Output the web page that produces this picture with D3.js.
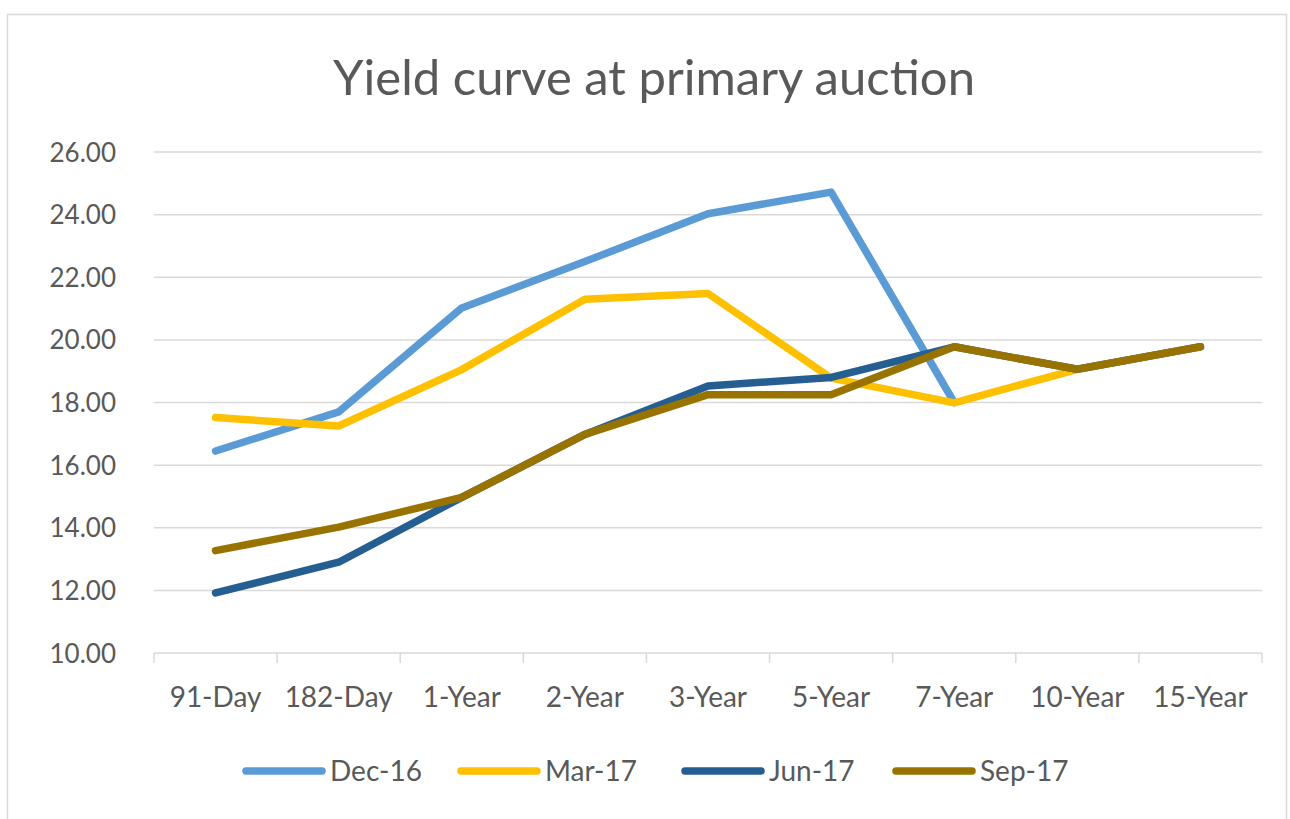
<!DOCTYPE html>
<html>
<head>
<meta charset="utf-8">
<script src="https://cdn.jsdelivr.net/npm/d3@7"></script>
<style>
  html, body { margin: 0; padding: 0; background: #fff; }
  svg { display: block; font-family: Lato, "Open Sans", sans-serif; }
</style>
</head>
<body>
<script>
// tenors on the x axis
const tenors = ["91-Day", "182-Day", "1-Year", "2-Year", "3-Year", "5-Year", "7-Year", "10-Year", "15-Year"];
const yTicks = [10, 12, 14, 16, 18, 20, 22, 24, 26];

// yields (null = no point)
const dec16 = [16.45, 17.70, 21.02, 22.50, 24.03, 24.72, 18.00, null, null];
const mar17 = [17.52, 17.25, 19.05, 21.30, 21.48, 18.78, 17.99, 19.06, null];
const jun17 = [11.92, 12.90, 14.97, 16.98, 18.53, 18.80, 19.78, 19.06, 19.78];
const sep17 = [13.27, 14.02, 14.97, 16.98, 18.25, 18.25, 19.78, 19.06, 19.78];

const seriesNames = ["Dec-16", "Mar-17", "Jun-17", "Sep-17"];
const seriesValues = [dec16, mar17, jun17, sep17];
const colors = ["#5B9BD5", "#FFC000", "#255E91", "#997300"];

const width = 1290, height = 819;
const m = { left: 154, right: 1262, top: 152, bottom: 653 };
const textColor = "#595959";
const gridColor = "#D9D9D9";

const svg = d3.select("body").append("svg")
  .attr("width", width)
  .attr("height", height);

// chart frame
svg.append("rect")
  .attr("x", 7.5).attr("y", 14.5)
  .attr("width", 1279).attr("height", 820)
  .attr("fill", "#fff")
  .attr("stroke", gridColor)
  .attr("stroke-width", 1.5);

svg.append("text")
  .attr("x", 654).attr("y", 95)
  .attr("text-anchor", "middle")
  .attr("fill", textColor)
  .attr("font-size", 49)
  .text("Yield curve at primary auction");

const x = d3.scaleBand().domain(tenors).range([m.left, m.right]);
const y = d3.scaleLinear().domain([10, 26]).range([m.bottom, m.top]);

// horizontal gridlines
svg.append("g")
  .selectAll("line")
  .data(yTicks.filter(d => d > 10))
  .join("line")
  .attr("x1", m.left).attr("x2", m.right)
  .attr("y1", d => y(d)).attr("y2", d => y(d))
  .attr("stroke", gridColor)
  .attr("stroke-width", 1.5);

// y axis labels
const yAxis = svg.append("g")
  .attr("transform", `translate(${116},0)`)
  .call(d3.axisLeft(y).tickValues(yTicks).tickFormat(d3.format(".2f")).tickSize(0).tickPadding(0));
yAxis.select(".domain").remove();
yAxis.selectAll("text")
  .attr("fill", textColor)
  .attr("font-size", 26)
  .attr("font-family", "Lato, sans-serif")
  .attr("dy", "0.35em");

// x axis with ticks between categories
const xAxis = svg.append("g")
  .attr("transform", `translate(0,${m.bottom})`);
xAxis.append("line")
  .attr("x1", m.left).attr("x2", m.right)
  .attr("stroke", gridColor).attr("stroke-width", 1.5);
const boundaries = tenors.map(t => x(t)).concat([m.right]);
xAxis.selectAll("line.tick")
  .data(boundaries)
  .join("line")
  .attr("class", "tick")
  .attr("x1", d => d).attr("x2", d => d)
  .attr("y1", 0).attr("y2", 10)
  .attr("stroke", gridColor).attr("stroke-width", 1.5);
xAxis.selectAll("text")
  .data(tenors)
  .join("text")
  .attr("x", d => x(d) + x.bandwidth() / 2)
  .attr("y", 54)
  .attr("text-anchor", "middle")
  .attr("fill", textColor)
  .attr("font-size", 28)
  .text(d => d);

// lines
const line = d3.line()
  .defined(d => d.v != null)
  .x(d => x(d.t) + x.bandwidth() / 2)
  .y(d => y(d.v));

svg.append("g")
  .selectAll("path")
  .data(seriesValues.map((vals, i) => ({ name: seriesNames[i], color: colors[i], pts: vals.map((v, j) => ({ t: tenors[j], v })) })))
  .join("path")
  .attr("d", d => line(d.pts))
  .attr("fill", "none")
  .attr("stroke", d => d.color)
  .attr("stroke-width", 7.5)
  .attr("stroke-linecap", "round")
  .attr("stroke-linejoin", "round");

// legend
const legendX = [246, 461, 685, 896];
const legend = svg.append("g");
seriesNames.forEach((name, i) => {
  legend.append("line")
    .attr("x1", legendX[i]).attr("x2", legendX[i] + 76)
    .attr("y1", 771).attr("y2", 771)
    .attr("stroke", colors[i])
    .attr("stroke-width", 7.5)
    .attr("stroke-linecap", "round");
  legend.append("text")
    .attr("x", legendX[i] + 84)
    .attr("y", 771)
    .attr("dy", "0.35em")
    .attr("fill", textColor)
    .attr("font-size", 28)
    .text(name);
});
</script>
</body>
</html>
